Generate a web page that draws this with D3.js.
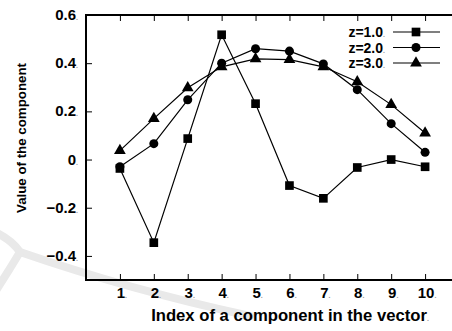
<!DOCTYPE html>
<html>
<head>
<meta charset="utf-8">
<script src="https://cdn.jsdelivr.net/npm/d3@7/dist/d3.min.js"></script>
<style>
  body { margin: 0; background: #fff; }
  svg { display: block; }
  text { font-family: "Liberation Sans", Arial, Helvetica, sans-serif; font-weight: bold; }
</style>
</head>
<body>
<div id="chart"></div>
<script>
// data
const indices = [1, 2, 3, 4, 5, 6, 7, 8, 9, 10];
const z1 = [-0.037, -0.345, 0.087, 0.518, 0.232, -0.108, -0.161, -0.033, 0.0, -0.03];
const z2 = [-0.03, 0.066, 0.248, 0.40, 0.46, 0.45, 0.397, 0.29, 0.149, 0.03];
const z3 = [0.037, 0.17, 0.298, 0.385, 0.418, 0.415, 0.385, 0.323, 0.228, 0.11];
const seriesNames = ['z=1.0', 'z=2.0', 'z=3.0'];
const yTicks = [-0.4, -0.2, 0, 0.2, 0.4, 0.6];

const width = 452, height = 331;
const margin = { left: 86, top: 15, right: 459, bottom: 280 };

const svg = d3.select('#chart').append('svg')
  .attr('width', width)
  .attr('height', height);

// faint watermark in the background
const wm = svg.append('g')
  .attr('fill', 'none')
  .attr('stroke', '#e9e9e9')
  .attr('stroke-width', 8)
  .attr('stroke-linecap', 'round');
wm.append('path').attr('d', 'M-5,232 Q12,240 20,252 Q130,290 250,316');
wm.append('path').attr('d', 'M20,252 Q8,272 -5,292');

const x = d3.scaleLinear().domain([0, 11]).range([margin.left, margin.right]);
const y = d3.scaleLinear().domain([-0.5, 0.6]).range([margin.bottom, margin.top]);

// axes with inward ticks
const tl = 6;
const bottomAxis = d3.axisBottom(x).tickValues(indices).tickSize(-tl).tickFormat('');
const topAxis = d3.axisTop(x).tickValues(indices).tickSize(-tl).tickFormat('');
const leftAxis = d3.axisLeft(y).tickValues(yTicks).tickSize(-tl).tickFormat('');
const rightAxis = d3.axisRight(y).tickValues(yTicks).tickSize(-tl).tickFormat('');

function styleAxis(g) {
  g.select('.domain').remove();
  g.selectAll('line').attr('stroke', '#000').attr('stroke-width', 1);
}
svg.append('g').attr('transform', `translate(0,${margin.bottom})`).call(bottomAxis).call(styleAxis);
svg.append('g').attr('transform', `translate(0,${margin.top})`).call(topAxis).call(styleAxis);
svg.append('g').attr('transform', `translate(${margin.left},0)`).call(leftAxis).call(styleAxis);
svg.append('g').attr('transform', `translate(${margin.right},0)`).call(rightAxis).call(styleAxis);

svg.append('rect')
  .attr('x', margin.left).attr('y', margin.top)
  .attr('width', margin.right - margin.left)
  .attr('height', margin.bottom - margin.top)
  .attr('fill', 'none').attr('stroke', '#000').attr('stroke-width', 2);

// tick labels (with the small trailing dot seen in the picture)
function labelWithDot(sel) {
  sel.append('tspan').text(d => d.label);
  sel.append('tspan').text('.').attr('font-size', 7).attr('fill', '#999');
}
svg.append('g').selectAll('text')
  .data(indices.map(d => ({ v: d, label: String(d) })))
  .join('text')
  .attr('x', d => x(d.v) + 2)
  .attr('y', 298)
  .attr('text-anchor', 'middle')
  .attr('font-size', 15)
  .call(labelWithDot);

svg.append('g').selectAll('text')
  .data(yTicks.map(d => ({ v: d, label: d === 0 ? '0' : d3.format('.1f')(d) })))
  .join('text')
  .attr('x', 78)
  .attr('y', d => y(d.v) + 5)
  .attr('text-anchor', 'end')
  .attr('font-size', 15)
  .call(labelWithDot);

// scale a text's font so that it spans the wanted width
function fitWidth(textSel, target) {
  const w = textSel.node().getComputedTextLength();
  const fs = +textSel.attr('font-size');
  textSel.attr('font-size', (fs * target / w).toFixed(2));
}

// axis titles
const xTitle = svg.append('text')
  .attr('x', 290).attr('y', 321)
  .attr('text-anchor', 'middle')
  .attr('font-size', 15)
  .text('Index of a component in the vector');
fitWidth(xTitle, 276);
xTitle.append('tspan').text('.').attr('font-size', 7).attr('fill', '#999');

const yTitle = svg.append('text')
  .attr('transform', 'translate(26,138) rotate(-90)')
  .attr('text-anchor', 'middle')
  .attr('font-size', 15)
  .text('Value of the component');
fitWidth(yTitle, 150);

// series
const series = [z1, z2, z3];
const markers = [d3.symbolSquare, d3.symbolCircle, d3.symbolTriangle];
const markerSizes = [75, 64, 60];

const line = d3.line()
  .x((d, i) => x(indices[i]))
  .y(d => y(d));

const plot = svg.append('g');
series.forEach((vals, k) => {
  plot.append('path')
    .datum(vals)
    .attr('fill', 'none')
    .attr('stroke', '#000')
    .attr('stroke-width', 1.2)
    .attr('d', line);
  plot.append('g').selectAll('path')
    .data(vals)
    .join('path')
    .attr('transform', (d, i) => `translate(${x(indices[i])},${y(d)})`)
    .attr('d', d3.symbol().type(markers[k]).size(markerSizes[k]))
    .attr('fill', '#000');
});

// legend
const legend = svg.append('g');
seriesNames.forEach((name, k) => {
  const ly = 32 + k * 15.5;
  legend.append('text')
    .attr('x', 385).attr('y', ly + 5)
    .attr('text-anchor', 'end')
    .attr('font-size', 14)
    .call(s => {
      s.append('tspan').text(name);
      s.append('tspan').text('.').attr('font-size', 7).attr('fill', '#999');
    });
  legend.append('line')
    .attr('x1', 393).attr('x2', 440)
    .attr('y1', ly).attr('y2', ly)
    .attr('stroke', '#000').attr('stroke-width', 1.2);
  legend.append('path')
    .attr('transform', `translate(416,${ly})`)
    .attr('d', d3.symbol().type(markers[k]).size(markerSizes[k]))
    .attr('fill', '#000');
});
</script>
</body>
</html>
